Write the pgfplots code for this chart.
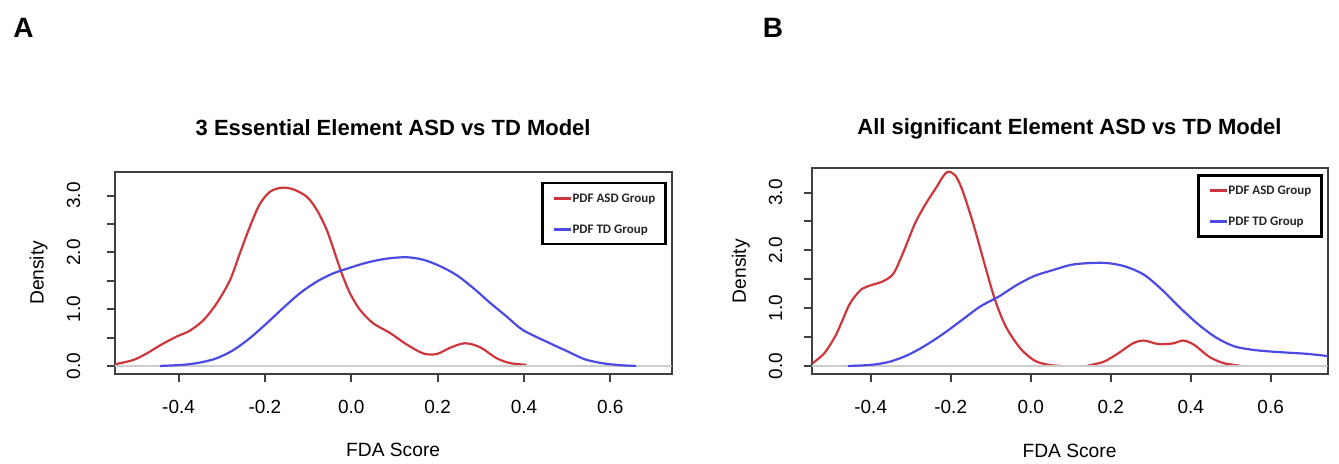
\documentclass[border=0pt]{standalone}
\usepackage{pgfplots}
\pgfplotsset{compat=1.18}
\usepackage{fontspec}
\setmainfont{Liberation Sans}
\newfontfamily\legfont{Carlito}

\definecolor{asdred}{RGB}{205,55,60}
\definecolor{tdblue}{RGB}{75,75,228}
\definecolor{zerogray}{RGB}{205,205,205}

\pgfplotsset{
  densstyle/.style={
    scale only axis,
    xmin=-0.548, xmax=0.742, ymin=-0.14, ymax=3.42,
    axis line style={black!75, line width=1pt},
    tick style={black!75, line width=1pt},
    major tick length=4pt,
    tick align=outside,
    xtick pos=left, ytick pos=left,
    xtick={-0.4,-0.2,0,0.2,0.4,0.6},
    xticklabels={-0.4,-0.2,0.0,0.2,0.4,0.6},
    ytick={0,0.5,1,1.5,2,2.5,3},
    yticklabels={0.0,{},1.0,{},2.0,{},3.0},
    tick label style={font=\fontsize{9.5}{11}\selectfont},
    xticklabel style={anchor=base, yshift=-15.7pt},
    label style={font=\fontsize{9.6}{11}\selectfont},
    title style={font=\fontsize{11}{13}\selectfont\bfseries, anchor=base},
    xlabel={FDA Score}, ylabel={Density},
    legend style={at={(1,1)}, anchor=north east, draw=black, line width=1.2pt,
      fill=white, inner xsep=5pt, inner ysep=5pt, row sep=10.5pt,
      font={\fontsize{6.5}{7}\legfont\bfseries}, text=black!85,
      nodes={inner sep=0pt, text height=4.5pt, text depth=0.5pt},
      /tikz/every even column/.append style={column sep=0.5pt}},
    legend cell align=left,
    legend image code/.code={\draw[#1, line width=1.5pt] (0pt,0pt) -- (8.5pt,0pt);},
    every axis plot/.append style={line width=1.1pt},
  }
}

\begin{document}
\begin{tikzpicture}
\path[use as bounding box] (0,0) rectangle (669.5pt,232pt);

\node[font=\fontsize{14}{16}\selectfont\bfseries] at (11.75pt,218pt) {A};
\node[font=\fontsize{14}{16}\selectfont\bfseries] at (386.5pt,218pt) {B};

% panel A
\begin{axis}[densstyle,
  at={(57.35pt,45.05pt)}, anchor=south west,
  width=278.45pt, height=101.05pt,
  title={3 Essential Element ASD vs TD Model},
  title style={at={(axis description cs:0.5,1.12)}},
  xlabel style={at={(axis description cs:0.5,-0.411)}, anchor=base},
  ylabel style={at={(axis description cs:-0.1275,0.5)}, anchor=base},
  yticklabel style={xshift=-13.35pt, rotate=90, anchor=base},
  legend style={xshift=-2.5pt, yshift=-5.15pt},
]
\addplot[asdred, smooth] coordinates {
  (-0.547,0.03) (-0.505,0.105) (-0.474,0.22) (-0.439,0.38) (-0.404,0.52)
  (-0.374,0.62) (-0.342,0.81) (-0.312,1.10) (-0.281,1.51) (-0.258,1.985)
  (-0.235,2.45) (-0.212,2.85) (-0.188,3.07) (-0.161,3.14) (-0.134,3.11)
  (-0.103,2.98) (-0.080,2.75) (-0.057,2.40) (-0.038,1.985) (-0.022,1.63)
  (-0.003,1.28) (0.020,0.99) (0.051,0.75) (0.090,0.58) (0.128,0.38)
  (0.167,0.22) (0.198,0.21) (0.229,0.32) (0.263,0.40) (0.298,0.33)
  (0.337,0.135) (0.368,0.05) (0.406,0.02)
};
\addlegendentry{PDF ASD Group}
\addplot[zerogray, line width=1.2pt, forget plot] coordinates {(-0.548,0) (0.742,0)};
\addplot[tdblue, smooth] coordinates {
  (-0.443,0.0) (-0.389,0.02) (-0.350,0.06) (-0.312,0.135) (-0.273,0.28)
  (-0.235,0.49) (-0.196,0.75) (-0.158,1.02) (-0.119,1.28) (-0.080,1.485)
  (-0.042,1.63) (-0.003,1.73) (0.036,1.82) (0.082,1.89) (0.128,1.915)
  (0.167,1.87) (0.205,1.76) (0.244,1.60) (0.283,1.37) (0.321,1.115)
  (0.360,0.87) (0.398,0.63) (0.460,0.40) (0.500,0.26) (0.540,0.12)
  (0.580,0.05) (0.620,0.015) (0.660,0.0)
};
\addlegendentry{PDF TD Group}
\end{axis}

% panel B
\begin{axis}[densstyle,
  at={(405.75pt,44.95pt)}, anchor=south west,
  width=258pt, height=102.9pt,
  title={All significant Element ASD vs TD Model},
  title style={at={(axis description cs:0.5,1.104)}},
  xlabel style={at={(axis description cs:0.5,-0.403)}, anchor=base},
  ylabel style={at={(axis description cs:-0.127,0.5)}, anchor=base},
  yticklabel style={xshift=-10.75pt, rotate=90, anchor=base},
  legend style={xshift=-2.5pt, yshift=-3pt},
]
\addplot[asdred, smooth] coordinates {
  (-0.545,0.05) (-0.516,0.22) (-0.489,0.51) (-0.470,0.80) (-0.452,1.08)
  (-0.425,1.316) (-0.398,1.40) (-0.371,1.46) (-0.343,1.60) (-0.316,2.01)
  (-0.289,2.47) (-0.262,2.81) (-0.235,3.10) (-0.220,3.27) (-0.207,3.36)
  (-0.189,3.30) (-0.171,3.045) (-0.144,2.47) (-0.116,1.78) (-0.089,1.14)
  (-0.062,0.68) (-0.026,0.305) (0.010,0.092) (0.047,0.017) (0.074,0.004)
};
\addlegendentry{PDF ASD Group}
\addplot[asdred, smooth, forget plot] coordinates {
  (0.142,0.005) (0.183,0.075) (0.219,0.22) (0.255,0.39) (0.283,0.44)
  (0.319,0.38) (0.355,0.39) (0.382,0.44) (0.410,0.36) (0.446,0.16)
  (0.482,0.05) (0.523,0.005)
};
\addplot[zerogray, line width=1.2pt, forget plot] coordinates {(-0.548,0) (0.742,0)};
\addplot[tdblue, smooth] coordinates {
  (-0.457,0.0) (-0.398,0.02) (-0.352,0.075) (-0.307,0.19) (-0.262,0.36)
  (-0.216,0.57) (-0.171,0.80) (-0.126,1.03) (-0.080,1.20) (-0.035,1.40)
  (0.010,1.56) (0.056,1.66) (0.101,1.75) (0.147,1.78) (0.192,1.78)
  (0.237,1.72) (0.283,1.58) (0.328,1.32) (0.373,1.01) (0.419,0.72)
  (0.464,0.49) (0.509,0.34) (0.555,0.28) (0.600,0.25) (0.645,0.23)
  (0.691,0.21) (0.745,0.17)
};
\addlegendentry{PDF TD Group}
\end{axis}
\end{tikzpicture}
\end{document}
